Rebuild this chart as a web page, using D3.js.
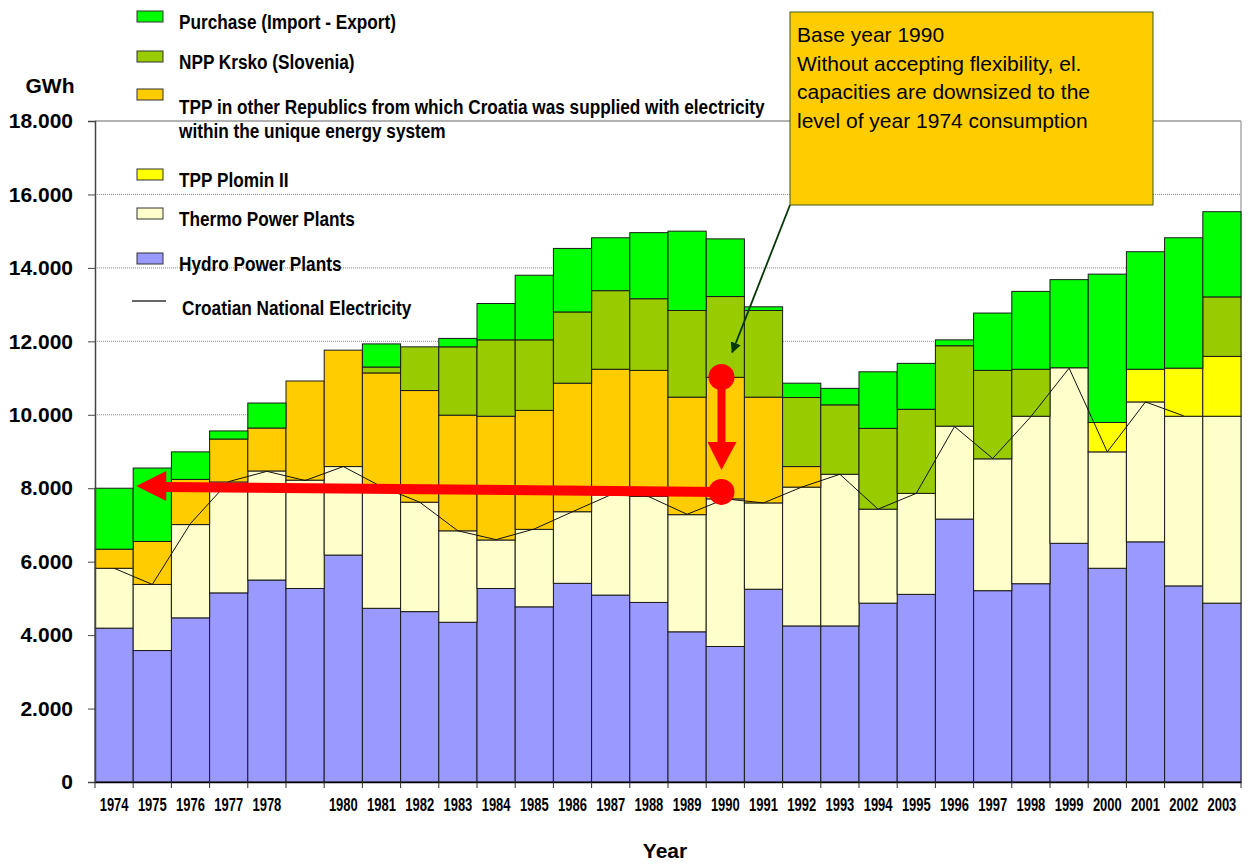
<!DOCTYPE html>
<html>
<head>
<meta charset="utf-8">
<script src="https://cdn.jsdelivr.net/npm/d3@7"></script>
<style>
  body { margin: 0; background: #fff; }
  text { font-family: "Liberation Sans", Arial, sans-serif; }
  .narrow { font-family: "Liberation Sans", Arial, sans-serif; font-weight: bold; }
</style>
</head>
<body>
<div id="chart"></div>
<script>
// data (GWh)
let years = ["1974","1975","1976","1977","1978","1979","1980","1981","1982","1983","1984","1985","1986","1987","1988","1989","1990","1991","1992","1993","1994","1995","1996","1997","1998","1999","2000","2001","2002","2003"]
let yearLabels = ["1974","1975","1976","1977","1978","","1980","1981","1982","1983","1984","1985","1986","1987","1988","1989","1990","1991","1992","1993","1994","1995","1996","1997","1998","1999","2000","2001","2002","2003"]
let hydro = [4190,3580,4470,5150,5500,5270,6180,4730,4640,4350,5270,4770,5410,5090,4890,4090,3690,5250,4250,4250,4870,5110,7160,5210,5400,6500,5820,6540,5340,4870]
let thermo = [1630,1800,2540,3020,2970,2950,2410,3320,2980,2490,1320,2110,1950,2730,2890,3190,4020,2350,3780,4130,2560,2750,2530,3590,4560,4780,3170,3810,4620,5090]
let plomin = [0,0,0,0,0,0,0,0,0,0,0,0,0,0,0,0,0,0,0,0,0,0,0,0,0,0,800,890,1310,1630]
let tppOther = [520,1170,1230,1170,1170,2700,3170,3090,3040,3150,3370,3240,3500,3420,3430,3200,3310,2880,560,0,0,0,0,0,0,0,0,0,0,0]
let npp = [0,0,0,0,0,0,0,160,1190,1860,2080,1920,1940,2140,1950,2360,2200,2360,1880,1890,2200,2290,2190,2410,1280,0,0,0,0,1620]
let purchase = [1660,2000,750,220,680,0,0,630,0,230,990,1760,1730,1440,1800,2160,1570,100,390,450,1540,1250,160,1560,2120,2400,4040,3200,3550,2320]
// Croatian national electricity (line), 1974-2002
let national = [5820,5380,7040,8180,8460,8210,8590,8040,7620,6840,6600,6890,7360,7820,7770,7290,7710,7600,8030,8380,7430,7860,9680,8810,9950,11270,8990,10350,9970]

let yTicks = [0,2000,4000,6000,8000,10000,12000,14000,16000,18000]
let gridValues = [10000,12000,14000,16000]

let seriesKeys = ["hydro","thermo","plomin","tppOther","npp","purchase"]
let seriesColors = ["#9999ff","#ffffcc","#ffff00","#ffcc00","#99cc00","#00ff00"]

let legendItems = [
    {key: "purchase", label: ["Purchase (Import - Export)"]},
    {key: "npp", label: ["NPP Krsko (Slovenia)"]},
    {key: "tppOther", label: ["TPP in other Republics from which Croatia was supplied with electricity", "within the unique energy system"]},
    {key: "plomin", label: ["TPP Plomin II"]},
    {key: "thermo", label: ["Thermo Power Plants"]},
    {key: "hydro", label: ["Hydro Power Plants"]}
]
let lineLabel = "Croatian National Electricity"
let noteLines = ["Base year 1990", "Without accepting flexibility, el.", "capacities are downsized to the", "level of year 1974 consumption"]

let width = 1255, height = 864
let margin = ({top: 121, right: 14, bottom: 82, left: 95})

let svg = d3.select("#chart").append("svg")
    .attr("width", width)
    .attr("height", height)

// no narrow font installed, so squeeze bold text horizontally
function squeeze(sel, k) {
    sel.each(function() {
        let w = this.getComputedTextLength()
        if (w > 0) d3.select(this).attr("textLength", w * k).attr("lengthAdjust", "spacingAndGlyphs")
    })
}

let table = years.map((yr, i) => ({
    year: yr, hydro: hydro[i], thermo: thermo[i], plomin: plomin[i],
    tppOther: tppOther[i], npp: npp[i], purchase: purchase[i]
}))

let series = d3.stack().keys(seriesKeys)(table)
let color = d3.scaleOrdinal().domain(seriesKeys).range(seriesColors)

let x = d3.scaleBand()
    .domain(years)
    .range([margin.left, width - margin.right])
    .padding(0)

let y = d3.scaleLinear()
    .domain([0, 18000])
    .range([height - margin.bottom, margin.top])

let fmt = d3.formatLocale({decimal: ",", thousands: ".", grouping: [3], currency: ["", ""]}).format(",")

// grid + frame
svg.append("g")
    .selectAll("line")
    .data(gridValues)
    .join("line")
    .attr("x1", margin.left).attr("x2", width - margin.right)
    .attr("y1", d => y(d)).attr("y2", d => y(d))
    .attr("stroke", "#8a8a8a")
    .attr("stroke-dasharray", "1,1")

svg.append("line")
    .attr("x1", margin.left).attr("x2", width - margin.right)
    .attr("y1", y(18000)).attr("y2", y(18000))
    .attr("stroke", "#999").attr("stroke-width", 1.5)

svg.append("line")
    .attr("x1", width - margin.right).attr("x2", width - margin.right)
    .attr("y1", y(18000)).attr("y2", y(0))
    .attr("stroke", "#aaa").attr("stroke-width", 1.5)

// bars
svg.append("g")
    .selectAll("g")
    .data(series)
    .join("g")
    .attr("fill", d => color(d.key))
    .selectAll("rect")
    .data(d => d.filter(v => v[1] - v[0] > 0))
    .join("rect")
    .attr("x", d => x(d.data.year))
    .attr("y", d => y(d[1]))
    .attr("width", x.bandwidth())
    .attr("height", d => y(d[0]) - y(d[1]))
    .attr("stroke", "#1a1a1a")
    .attr("stroke-width", 1)

// national line
let line = d3.line()
    .x((d, i) => x(years[i]) + x.bandwidth() / 2)
    .y(d => y(d))

svg.append("path")
    .datum(national)
    .attr("d", line)
    .attr("fill", "none")
    .attr("stroke", "#111")
    .attr("stroke-width", 1)

// y axis
let yAxis = g => g
    .attr("transform", `translate(${margin.left},0)`)
    .call(d3.axisLeft(y).tickValues(yTicks).tickFormat(fmt).tickSize(7).tickPadding(15))
    .call(g => g.select(".domain").attr("stroke", "#444").attr("stroke-width", 1.5))
    .call(g => g.selectAll(".tick line").attr("stroke", "#444"))
    .call(g => g.selectAll(".tick text")
        .attr("font-family", "Liberation Sans, Arial, sans-serif")
        .attr("font-weight", "bold")
        .attr("font-size", 21)
        .attr("fill", "#000"))

svg.append("g").call(yAxis)

// x axis
let xAxis = g => g
    .attr("transform", `translate(0,${y(0)})`)
    .call(d3.axisBottom(x).tickFormat((d, i) => yearLabels[i]).tickSize(0).tickPadding(16))
    .call(g => g.select(".domain").attr("stroke", "#000").attr("stroke-width", 1.5))
    .call(g => g.selectAll(".tick text")
        .attr("class", "narrow")
        .attr("font-size", 18)
        .attr("fill", "#000"))

let xg = svg.append("g").call(xAxis)
squeeze(xg.selectAll(".tick text"), 0.72)

svg.append("g")
    .selectAll("line")
    .data(years.concat(["end"]))
    .join("line")
    .attr("x1", d => d === "end" ? x.range()[1] : x(d))
    .attr("x2", d => d === "end" ? x.range()[1] : x(d))
    .attr("y1", y(0)).attr("y2", y(0) + 6)
    .attr("stroke", "#333")

svg.append("text")
    .attr("x", 665).attr("y", 858)
    .attr("text-anchor", "middle")
    .attr("font-weight", "bold")
    .attr("font-size", 21)
    .text("Year")

svg.append("text")
    .attr("x", 50).attr("y", 93)
    .attr("text-anchor", "middle")
    .attr("font-weight", "bold")
    .attr("font-size", 21)
    .text("GWh")

// legend
let legendY = [11, 51, 89, 169, 208, 253]
let legend = svg.append("g")
legendItems.forEach((item, i) => {
    legend.append("rect")
        .attr("x", 137).attr("y", legendY[i])
        .attr("width", 26).attr("height", 11)
        .attr("fill", color(item.key))
        .attr("stroke", "#333")
    item.label.forEach((t, j) => {
        legend.append("text")
            .attr("class", "narrow legend-text")
            .attr("x", 179)
            .attr("y", legendY[i] + (item.label.length > 1 ? 25 : 18) + j * 24)
            .attr("font-size", 20)
            .text(t)
    })
})
legend.append("line")
    .attr("x1", 132).attr("x2", 166)
    .attr("y1", 301).attr("y2", 301)
    .attr("stroke", "#333").attr("stroke-width", 1.5)
legend.append("text")
    .attr("class", "narrow legend-text")
    .attr("x", 182).attr("y", 315)
    .attr("font-size", 20)
    .text(lineLabel)

squeeze(legend.selectAll(".legend-text"), 0.86)

// red arrows (1990 -> 1974 consumption level)
let cx = x("1990") + x.bandwidth() * 0.4
let yTop = y(11030), yLow = y(7900)
let tipX = x("1974") + x.bandwidth() * 1.08, tipY = y(8060)
let red = "#ff0000"

svg.append("line")
    .attr("x1", cx).attr("y1", yLow)
    .attr("x2", tipX + 28).attr("y2", tipY + 1)
    .attr("stroke", red).attr("stroke-width", 10)
svg.append("path")
    .attr("d", `M${tipX},${tipY} L${tipX + 30},${tipY - 15} L${tipX + 30},${tipY + 15} Z`)
    .attr("fill", red)

svg.append("line")
    .attr("x1", cx).attr("y1", yTop)
    .attr("x2", cx).attr("y2", yLow - 47)
    .attr("stroke", red).attr("stroke-width", 8)
svg.append("path")
    .attr("d", `M${cx},${yLow - 22} L${cx - 14},${yLow - 50} L${cx + 15},${yLow - 50} Z`)
    .attr("fill", red)

svg.selectAll(".dot")
    .data([yTop, yLow])
    .join("circle")
    .attr("cx", cx).attr("cy", d => d)
    .attr("r", 13)
    .attr("fill", red)

// note box
svg.append("defs").append("marker")
    .attr("id", "head")
    .attr("viewBox", "0 0 10 10")
    .attr("refX", 9).attr("refY", 5)
    .attr("markerWidth", 6).attr("markerHeight", 6)
    .attr("orient", "auto")
    .append("path")
    .attr("d", "M0,0 L10,5 L0,10 Z")
    .attr("fill", "#063806")

svg.append("line")
    .attr("x1", 790).attr("y1", 205)
    .attr("x2", x("1990") + x.bandwidth() * 0.68).attr("y2", y(11700))
    .attr("stroke", "#063806").attr("stroke-width", 1.8)
    .attr("marker-end", "url(#head)")

svg.append("rect")
    .attr("x", 790).attr("y", 12)
    .attr("width", 363).attr("height", 193)
    .attr("fill", "#ffcc00")
    .attr("stroke", "#3d5a1e")

svg.append("g")
    .selectAll("text")
    .data(noteLines)
    .join("text")
    .attr("x", 797)
    .attr("y", (d, i) => 42 + i * 28.5)
    .attr("font-size", 21)
    .attr("fill", "#000")
    .text(d => d)
</script>
</body>
</html>
